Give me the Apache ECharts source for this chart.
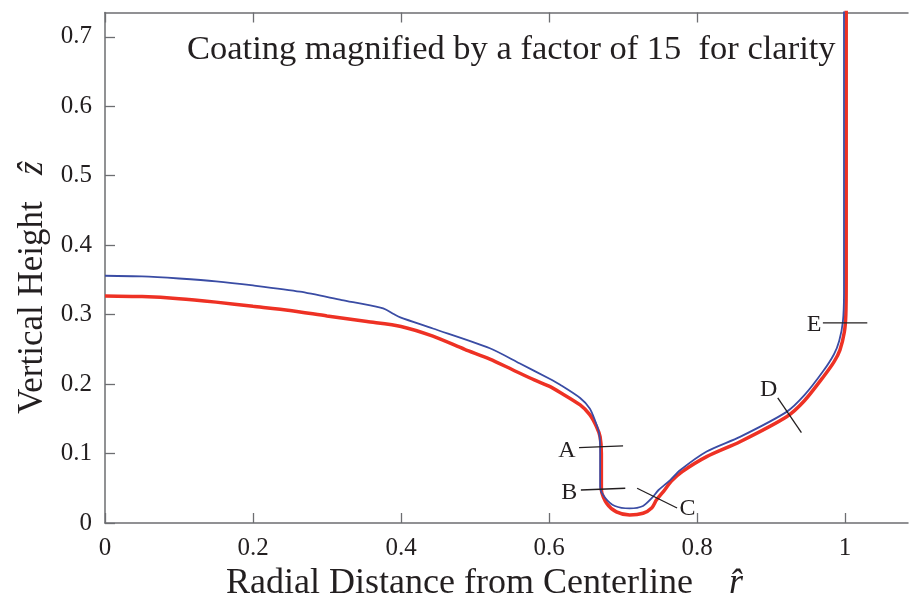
<!DOCTYPE html>
<html>
<head>
<meta charset="utf-8">
<title>Coating profile</title>
<script src="https://cdn.jsdelivr.net/npm/echarts@6/dist/echarts.min.js"></script>
<style>
  html, body { margin: 0; padding: 0; background: #fff; }
  #main { width: 909px; height: 602px; }
</style>
</head>
<body>
<div id="main"></div>
<script>
// substrate surface (red) and coated surface (blue), [r, z]
const substrate = [
  [0, 0.327], [0.05, 0.326], [0.1, 0.323], [0.15, 0.318], [0.2, 0.312],
  [0.25, 0.306], [0.3, 0.298], [0.354, 0.290], [0.4, 0.283], [0.443, 0.269],
  [0.486, 0.250], [0.52, 0.236], [0.55, 0.221], [0.58, 0.206], [0.6, 0.197],
  [0.615, 0.188], [0.642, 0.170], [0.655, 0.156], [0.664, 0.139], [0.669, 0.124],
  [0.6707, 0.100], [0.6707, 0.0475], [0.678, 0.028], [0.691, 0.016], [0.709, 0.0115],
  [0.727, 0.014], [0.739, 0.022], [0.745, 0.033], [0.755, 0.046], [0.765, 0.060],
  [0.78, 0.074], [0.813, 0.0955], [0.858, 0.117], [0.921, 0.153], [0.945, 0.176],
  [0.971, 0.211], [0.985, 0.232], [0.993, 0.249], [0.999, 0.275], [1.001, 0.300],
  [1.0015, 0.35], [1.0015, 0.74]
];
const coating = [
  [0, 0.356], [0.05, 0.355], [0.1, 0.352], [0.15, 0.348], [0.2, 0.342],
  [0.2635, 0.333], [0.32, 0.321], [0.372, 0.310], [0.38, 0.307], [0.39, 0.301],
  [0.399, 0.296], [0.443, 0.280], [0.52, 0.2516], [0.56, 0.230], [0.6, 0.208],
  [0.615, 0.199], [0.642, 0.180], [0.655, 0.165], [0.662, 0.148], [0.6675, 0.130],
  [0.669, 0.110], [0.669, 0.052], [0.676, 0.036], [0.689, 0.0245], [0.709, 0.021],
  [0.727, 0.0245], [0.739, 0.036], [0.748, 0.0475], [0.764, 0.062], [0.777, 0.076],
  [0.813, 0.103], [0.858, 0.124], [0.921, 0.160], [0.945, 0.184], [0.97, 0.218],
  [0.985, 0.243], [0.992, 0.262], [0.997, 0.290], [0.9985, 0.33], [0.9985, 0.74]
];

// cross-section markers A..E
const markNames = ['A', 'B', 'C', 'D', 'E'];
const markA = [[0.6405, 0.1085], [0.700, 0.111]];
const markB = [[0.643, 0.0475], [0.703, 0.050]];
const markC = [[0.719, 0.050], [0.773, 0.0216]];
const markD = [[0.909, 0.180], [0.941, 0.130]];
const markE = [[0.970, 0.288], [1.030, 0.288]];

const xTicks = [0, 0.2, 0.4, 0.6, 0.8, 1];
const yTicks = [0, 0.1, 0.2, 0.3, 0.4, 0.5, 0.6, 0.7];

const serif = '"Liberation Serif", "DejaVu Serif", serif';
const ink = '#231f20';

(function () {
  let myChart = echarts.init(document.getElementById('main'));

  // which end of each marker gets its letter, and where
  const labelAt = [
    { idx: 0, position: 'left', distance: 3, offset: [0, 3] },
    { idx: 0, position: 'left', distance: 3, offset: [0, 3] },
    { idx: 1, position: 'right', distance: 2, offset: [0, 1] },
    { idx: 0, position: 'top', distance: 1, offset: [-9, 5] },
    { idx: 0, position: 'left', distance: 1, offset: [0, 2] }
  ];

  const markSeries = [markA, markB, markC, markD, markE].map(function (pts, i) {
    const cfg = labelAt[i];
    return {
      type: 'line',
      name: markNames[i],
      silent: true,
      symbol: 'circle',
      symbolSize: 1,
      showSymbol: true,
      itemStyle: { color: 'rgba(0,0,0,0)' },
      lineStyle: { color: ink, width: 1.3 },
      z: 5,
      label: { show: false },
      data: pts.map(function (p, j) {
        if (j !== cfg.idx) return p;
        return {
          value: p,
          label: {
            show: true,
            formatter: markNames[i],
            position: cfg.position,
            distance: cfg.distance,
            offset: cfg.offset,
            fontFamily: serif,
            fontSize: 24,
            color: ink
          }
        };
      })
    };
  });

  const axisLine = { show: true, lineStyle: { color: '#6d6e71', width: 1.5 } };
  const tickStyle = { color: '#6d6e71', width: 1.3 };

  let option = {
    animation: false,
    backgroundColor: '#fff',
    title: {
      text: 'Coating magnified by a factor of 15  for clarity',
      left: 182,
      top: 27,
      textStyle: { fontFamily: serif, fontSize: 34.5, fontWeight: 'normal', color: ink }
    },
    grid: { left: 105, right: 1, top: 12.5, bottom: 79, containLabel: false, outerBoundsMode: 'none' },
    xAxis: [
      {
        type: 'value',
        min: 0,
        max: 1.085,
        interval: 0.2,
        name: 'Radial Distance from Centerline    {it|r\u0302}',
        nameLocation: 'middle',
        nameGap: 34,
        nameTextStyle: {
          fontFamily: serif, fontSize: 36, color: ink,
          padding: [0, 44, 0, 0],
          rich: { it: { fontFamily: serif, fontSize: 36, fontStyle: 'italic', color: ink } }
        },
        axisLine: axisLine,
        axisTick: { show: true, inside: true, length: 10, lineStyle: tickStyle, customValues: xTicks },
        axisLabel: { fontFamily: serif, fontSize: 25, color: ink, margin: 13, customValues: xTicks },
        splitLine: { show: false }
      },
      {
        type: 'value',
        position: 'top',
        min: 0,
        max: 1.085,
        interval: 0.2,
        axisLine: axisLine,
        axisTick: { show: true, inside: true, length: 10, lineStyle: tickStyle, customValues: xTicks },
        axisLabel: { show: false },
        splitLine: { show: false }
      }
    ],
    yAxis: {
      type: 'value',
      min: 0,
      max: 0.735,
      interval: 0.1,
      name: 'Vertical Height   {it|\u1e91}',
      nameLocation: 'middle',
      nameGap: 42,
      nameTextStyle: {
        fontFamily: serif, fontSize: 35, color: ink,
        padding: [0, 40, 0, 0],
        rich: { it: { fontFamily: serif, fontSize: 35, fontStyle: 'italic', color: ink } }
      },
      axisLine: axisLine,
      axisTick: { show: true, inside: true, length: 10, lineStyle: tickStyle, customValues: yTicks },
      axisLabel: { fontFamily: serif, fontSize: 25, color: ink, margin: 13, customValues: yTicks },
      splitLine: { show: false }
    },
    series: [
      {
        type: 'line',
        name: 'substrate',
        data: substrate,
        symbol: 'none',
        smooth: 0.25,
        lineStyle: { color: '#ee3124', width: 3.5 },
        z: 3
      },
      {
        type: 'line',
        name: 'coating',
        data: coating,
        symbol: 'none',
        smooth: 0.25,
        lineStyle: { color: '#3a4ca4', width: 1.8 },
        z: 4
      }
    ].concat(markSeries)
  };

  myChart.setOption(option);
  window.addEventListener('resize', function () {
    myChart.resize();
  });
})();
</script>
</body>
</html>
